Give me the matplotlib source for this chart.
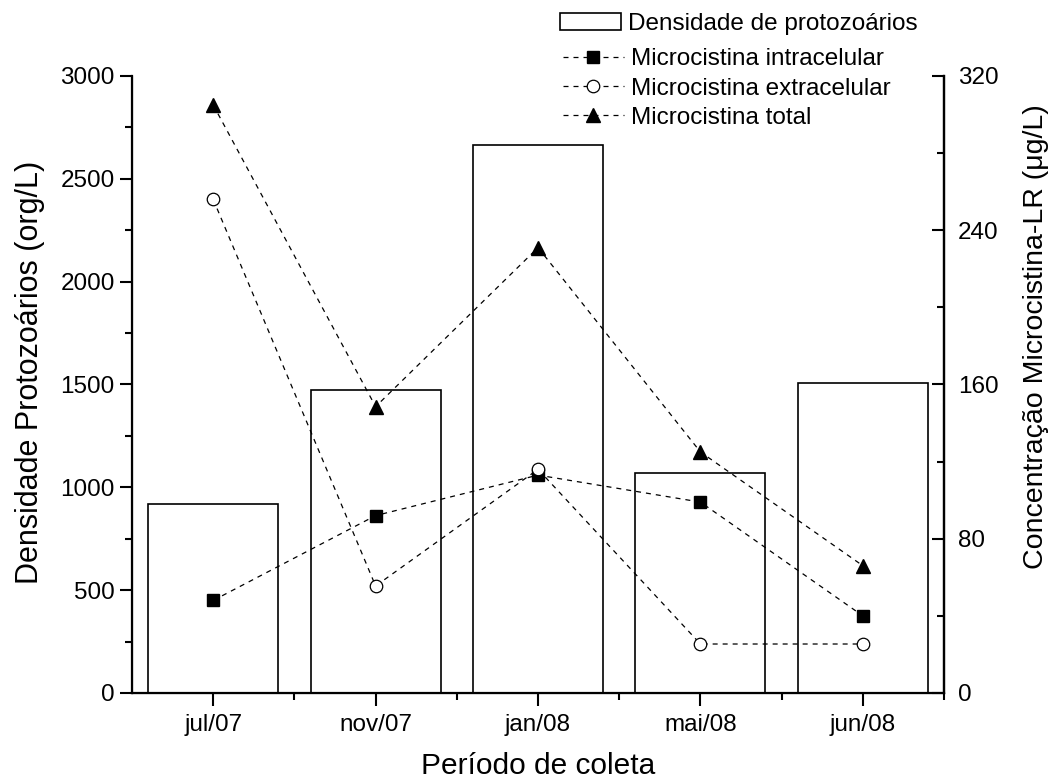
import numpy as np
import matplotlib
matplotlib.use("Agg")
import matplotlib.pyplot as plt
from matplotlib.patches import Patch
from matplotlib.lines import Line2D
from matplotlib.ticker import MultipleLocator

plt.rcParams['font.family'] = ['Liberation Sans', 'DejaVu Sans']

# dados
periodos = ["jul/07", "nov/07", "jan/08", "mai/08", "jun/08"]
densidade = [919, 1472, 2664, 1068, 1505]          # org/L
mc_intra = [48, 92, 113, 99, 40]                   # ug/L
mc_extra = [256, 55.5, 116, 25.4, 25.4]
mc_total = [305, 148.5, 231, 125, 66]

x = np.arange(len(periodos))

fig = plt.figure(figsize=(10.56, 7.81), dpi=100)
ax = fig.add_axes([0.125, 0.1127, 0.769, 0.79])

ax.bar(x, densidade, width=0.8, facecolor="white", edgecolor="black", linewidth=1.2)
ax.set_xlim(-0.5, 4.5)
ax.set_ylim(0, 3000)
ax.set_xticks(x)
ax.set_xticklabels(periodos)
ax.set_xticks(x + 0.5, minor=True)
ax.yaxis.set_major_locator(MultipleLocator(500))
ax.yaxis.set_minor_locator(MultipleLocator(250))
ax.tick_params(axis="both", which="major", direction="out", length=9, width=1.5, labelsize=17.5)
ax.tick_params(axis="x", which="major", pad=6)
ax.tick_params(axis="both", which="minor", direction="out", length=5, width=1.5)
ax.spines["top"].set_visible(False)
for s in ["left", "bottom", "right"]:
    ax.spines[s].set_linewidth(1.6)
ax.set_ylabel("Densidade Protozoários (org/L)", fontsize=22)
ax.yaxis.set_label_coords(-0.107, 0.519)
ax.set_xlabel("Período de coleta", fontsize=21.5)
ax.xaxis.set_label_coords(0.5, -0.095)

ax2 = ax.twinx()
ax2.set_ylim(0, 320)
ax2.yaxis.set_major_locator(MultipleLocator(80))
ax2.yaxis.set_minor_locator(MultipleLocator(40))
ax2.tick_params(axis="y", which="major", direction="in", length=9, width=1.5, labelsize=17.5, pad=10)
ax2.tick_params(axis="y", which="minor", direction="in", length=5, width=1.5)
ax2.spines["top"].set_visible(False)
ax2.spines["right"].set_linewidth(1.6)
ax2.set_ylabel("Concentração Microcistina-LR (μg/L)", fontsize=20.5)
ax2.yaxis.set_label_coords(1.097, 0.577)

estilo = dict(color="black", linestyle=(0, (4, 4)), linewidth=0.9)
ax2.plot(x, mc_intra, marker="s", markersize=8.5, markerfacecolor="black", **estilo)
ax2.plot(x, mc_extra, marker="o", markersize=9, markerfacecolor="white", markeredgewidth=0.9, **estilo)
ax2.plot(x, mc_total, marker="^", markersize=10, markerfacecolor="black", **estilo)

# legenda: barra separada das linhas
leg1 = fig.legend([Patch(facecolor="white", edgecolor="black", linewidth=1.2)],
                  ["Densidade de protozoários"], loc="upper left",
                  bbox_to_anchor=(0.514, 1.005), frameon=False, fontsize=17.5,
                  handlelength=2.5, handletextpad=0.3, borderaxespad=0.3)
handles = [
    Line2D([], [], marker="s", markersize=8.5, markerfacecolor="black", **estilo),
    Line2D([], [], marker="o", markersize=9, markerfacecolor="white", markeredgewidth=0.9, **estilo),
    Line2D([], [], marker="^", markersize=10, markerfacecolor="black", **estilo),
]
labels = ["Microcistina intracelular", "Microcistina extracelular", "Microcistina total"]
fig.legend(handles, labels, loc="upper left", bbox_to_anchor=(0.517, 0.96),
           frameon=False, fontsize=17.5, handlelength=2.5, handletextpad=0.3,
           labelspacing=0.3, borderaxespad=0.3)

fig.savefig("out.png", dpi=100)
